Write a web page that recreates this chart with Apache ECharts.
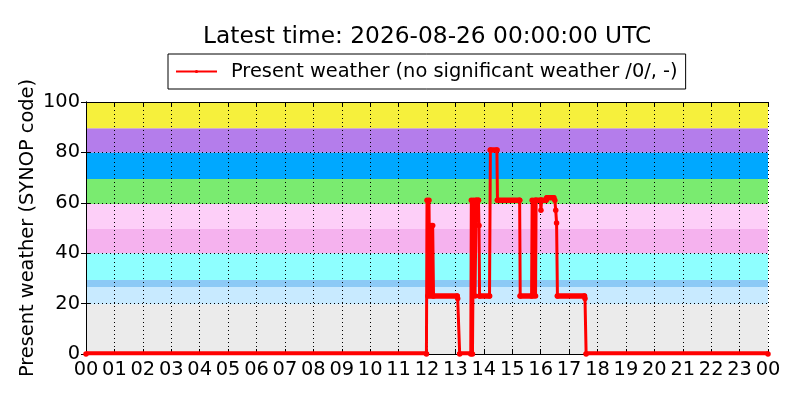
<!DOCTYPE html>
<html><head><meta charset="utf-8">
<script src="https://cdn.jsdelivr.net/npm/echarts/dist/echarts.min.js"></script>
<style>html,body{margin:0;padding:0;background:#fff}#c{width:800px;height:400px}</style>
</head><body><div id="c"></div>
<script>
// observation times (hours UTC) and present weather SYNOP codes
const times = [0, 11.98, 12.00, 12.03, 12.07, 12.10, 12.14, 12.17, 12.20, 12.23,
  13.06, 13.08, 13.15,
  13.54, 13.56, 13.60, 13.64, 13.69, 13.73, 13.81, 13.83, 13.85,
  14.20, 14.23, 14.46, 14.48,
  15.26, 15.28,
  15.68, 15.70, 15.75, 15.79, 15.82, 15.84,
  15.99, 16.01, 16.03, 16.19, 16.22, 16.46, 16.50, 16.53, 16.56, 16.59,
  17.54, 17.56, 17.60, 24];
const codes = [0, 0, 61, 23, 61, 23, 51, 23, 51, 23,
  23, 22, 0,
  0, 61, 0, 61, 23, 61, 61, 51, 23,
  23, 81, 81, 61,
  61, 23,
  23, 61, 23, 61, 23, 61,
  61, 57, 61, 61, 62, 62, 61, 57, 52, 23,
  23, 22, 0, 0];
// background code bands
const bandLow  = [0, 19.7, 26.6, 29.4, 40, 49.6, 59.5, 69.4, 80, 89.6];
const bandHigh = [19.7, 26.6, 29.4, 40, 49.6, 59.5, 69.4, 80, 89.6, 100];
const bandColors = ['#ebebeb', '#c8eaff', '#8ccaf6', '#8effff', '#f5b2ee', '#fdcff8', '#7aeb70', '#00a8ff', '#b47deb', '#f6f03c'];
const xTickLabels = ['00','01','02','03','04','05','06','07','08','09','10','11','12','13','14','15','16','17','18','19','20','21','22','23','00'];
const yTicks = [0, 20, 40, 60, 80, 100];

const seriesName = 'Present weather (no significant weather /0/, -)';
const points = times.map((t, i) => [t, codes[i]]);
const font = 'DejaVu Sans';

const chart = echarts.init(document.getElementById('c'));
const axisBase = {
  type: 'value', min: 0, max: 24, interval: 1, z: 1,
  axisLine: {show: true, onZero: false, lineStyle: {color: '#000', width: 1}},
  axisTick: {show: true, inside: true, length: 5, lineStyle: {color: '#000'}}
};
chart.setOption({
  animation: false,
  textStyle: {fontFamily: font},
  title: {
    text: 'Latest time: 2026-08-26 00:00:00 UTC',
    left: 198, top: 20,
    textStyle: {fontFamily: font, fontSize: 23.3, fontWeight: 'normal', color: '#000'}
  },
  legend: {
    data: [seriesName], left: 168, top: 54,
    borderColor: '#000', borderWidth: 1, borderRadius: 0,
    padding: [8, 8, 8, 7], itemWidth: 41, itemHeight: 4,
    textStyle: {fontFamily: font, fontSize: 19.4, color: '#000', padding: [0, 0, 0, 9]}
  },
  grid: {left: 86, right: 32, top: 102, bottom: 46, containLabel: false},
  xAxis: [
    Object.assign({}, axisBase, {
      position: 'bottom',
      axisLabel: {color: '#000', fontSize: 19.4, fontFamily: font, margin: 6,
        formatter: v => xTickLabels[Math.round(v)]},
      splitLine: {show: true, lineStyle: {color: '#000', width: 1, type: [1, 3]}}
    }),
    Object.assign({}, axisBase, {
      position: 'top', axisLabel: {show: false}, splitLine: {show: false}
    })
  ],
  yAxis: [
    {
      type: 'value', min: 0, max: 100, interval: 20, z: 1, position: 'left',
      name: 'Present weather (SYNOP code)', nameLocation: 'middle', nameGap: 49,
      nameMoveOverlap: false,
      nameTextStyle: {fontFamily: font, fontSize: 19.4, color: '#000'},
      axisLine: {show: true, lineStyle: {color: '#000', width: 1}},
      axisTick: {show: true, inside: true, length: 5, lineStyle: {color: '#000'}},
      axisLabel: {color: '#000', fontSize: 19.4, fontFamily: font, margin: 6,
        formatter: v => (yTicks.indexOf(v) >= 0 ? String(v) : '')},
      splitLine: {show: true, lineStyle: {color: '#000', width: 1, type: [1, 3]}}
    },
    {
      type: 'value', min: 0, max: 100, interval: 20, z: 1, position: 'right',
      axisLine: {show: true, lineStyle: {color: '#000', width: 1}},
      axisTick: {show: true, inside: true, length: 5, lineStyle: {color: '#000'}},
      axisLabel: {show: false}, splitLine: {show: false}
    }
  ],
  series: [
    {
      name: 'bands', type: 'custom', z: 0, silent: true,
      xAxisIndex: 0, yAxisIndex: 0,
      data: bandLow.map((lo, i) => [0, lo, i]),
      renderItem: (params, api) => {
        const i = params.dataIndex;
        const p1 = api.coord([0, bandHigh[i]]);
        const p2 = api.coord([24, bandLow[i]]);
        return {type: 'rect', shape: {x: p1[0], y: p1[1], width: p2[0] - p1[0], height: p2[1] - p1[1]},
          style: {fill: bandColors[i]}};
      }
    },
    {
      name: 'runs', type: 'custom', z: 3, silent: true,
      xAxisIndex: 0, yAxisIndex: 0,
      data: points.slice(0, -1).map((p, i) => [p[0], p[1], i]),
      renderItem: (params, api) => {
        const i = params.dataIndex;
        if (codes[i] !== codes[i + 1]) return null;
        const a = api.coord([times[i], codes[i]]);
        const b = api.coord([times[i + 1], codes[i + 1]]);
        const cs = params.coordSys;
        return {type: 'line', shape: {x1: a[0], y1: a[1], x2: b[0], y2: b[1]},
          style: {stroke: '#ff0000', lineWidth: 5.5, lineCap: 'round'},
          clipPath: {type: 'rect', shape: {x: cs.x, y: cs.y, width: cs.width, height: cs.height}}};
      }
    },
    {
      name: seriesName, type: 'line', z: 4,
      xAxisIndex: 0, yAxisIndex: 0,
      data: points,
      showSymbol: true, showAllSymbol: true,
      symbol: 'circle', symbolSize: 5.5,
      itemStyle: {color: '#ff0000'},
      lineStyle: {color: '#ff0000', width: 3},
      clip: true
    }
  ]
});
</script>
</body></html>
